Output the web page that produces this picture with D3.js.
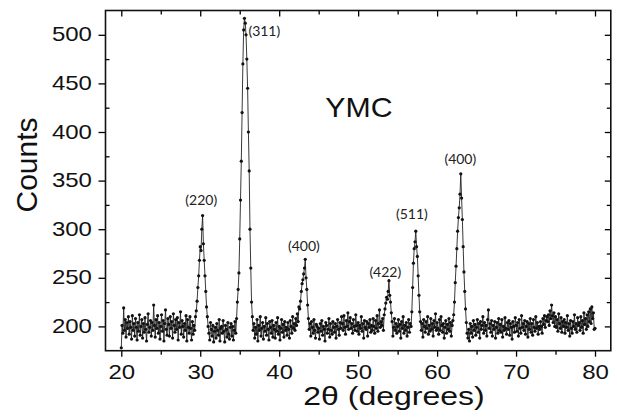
<!DOCTYPE html>
<html><head><meta charset="utf-8">
<script src="https://cdn.jsdelivr.net/npm/d3@7"></script>
<style>html,body{margin:0;padding:0;background:#fff;} svg{display:block}</style>
</head><body>
<svg id="chart" width="617" height="418"></svg>
<script>
// ---- data ----
const startAngle = 20, angleStep = 0.1;
const counts = [
178,201,193,219,196,207,189,204,198,210,
192,205,199,187,211,196,203,190,208,199,
186,204,195,212,191,200,207,188,203,194,
209,197,185,202,213,194,199,206,190,204,
196,222,201,189,207,198,211,193,204,187,
200,212,195,206,185,203,217,197,191,208,
202,190,210,198,205,188,213,201,194,207,
197,209,186,204,199,215,192,206,200,189,
203,196,211,185,207,199,193,210,198,186,
205,192,201,196,210,216,226,240,252,268,
282,278,300,314,285,268,252,236,220,210,
200,193,186,204,197,190,201,184,195,199,
188,203,196,191,207,185,198,200,193,206,
195,184,201,197,189,204,192,187,199,203,
190,200,186,196,205,193,208,225,238,255,
290,330,370,420,470,505,517,512,500,475,
445,400,360,300,260,225,210,196,203,188,
199,192,207,185,201,196,210,190,198,204,
187,200,195,209,191,203,197,186,205,199,
193,206,189,201,197,188,204,195,209,192,
200,186,198,207,194,202,189,205,196,199,
191,204,197,188,206,200,193,210,198,203,
196,208,201,213,205,220,218,226,236,244,
248,254,260,269,250,238,222,208,197,203,
190,205,199,193,207,196,188,202,200,194,
198,187,203,195,206,191,200,197,185,204,
201,193,197,208,189,203,196,192,205,199,
194,203,188,200,207,197,191,204,198,210,
203,196,211,199,192,206,200,214,197,205,
209,198,203,193,207,200,196,212,201,195,
204,192,201,198,210,195,203,188,206,199,
197,205,190,203,199,207,194,201,196,208,
200,193,206,198,211,195,203,217,199,205,
201,208,196,212,218,224,230,228,236,247,
232,225,214,205,190,199,208,196,203,193,
200,207,195,202,188,205,198,210,193,201,
196,204,190,199,207,194,203,200,215,240,
265,280,287,298,282,272,252,232,215,205,
196,203,189,207,200,194,205,198,210,192,
201,195,208,197,203,190,206,199,213,196,
204,198,192,207,196,210,201,194,203,188,
199,206,193,202,197,208,195,204,190,201,
206,212,225,245,262,280,298,312,322,336,
357,332,310,282,256,236,218,204,193,188,
197,185,203,193,200,189,206,196,202,191,
199,207,194,203,188,205,197,201,210,193,
204,196,201,190,207,217,198,203,194,206,
190,201,197,205,188,199,204,193,208,196,
202,194,207,189,200,196,209,198,192,204,
197,206,191,203,199,187,205,200,194,209,
201,195,204,190,207,198,193,211,199,203,
196,206,192,200,205,189,203,197,208,194,
203,191,207,199,195,210,198,204,192,200,
197,205,200,193,208,202,211,199,206,210,
205,212,201,216,208,222,211,204,214,200,
210,199,207,195,213,203,198,209,194,205,
200,207,193,204,199,211,196,203,190,206,
198,193,205,200,212,197,203,194,209,201,
204,196,210,199,206,193,214,202,208,197,
212,200,215,205,218,203,220,208,214,197,
198
];
const xTickValues = [20, 30, 40, 50, 60, 70, 80];
const xMinorTicks = [25, 35, 45, 55, 65, 75];
const yTickValues = [200, 250, 300, 350, 400, 450, 500];
const yMinorTicks = [225, 275, 325, 375, 425, 475];
const peakNames = ["(220)", "(311)", "(400)", "(422)", "(511)", "(400)"];
const peakLabelAngles = [30.13, 36.1, 43.12, 53.44, 56.8, 62.94];
const peakLabelCounts = [324.5, 498.4, 277.2, 250.4, 310.1, 366.7];
const sampleName = "YMC";
const xTitle = "2θ (degrees)";
const yTitle = "Counts";

// ---- drawing ----
const svg = d3.select("#chart");
const x = d3.scaleLinear().domain([18, 82]).range([105.5, 610.8]);
const y = d3.scaleLinear().domain([175, 525]).range([350.7, 10.5]);

const pts = counts.map((c, i) => ({a: +(startAngle + i * angleStep).toFixed(2), c}));

svg.append("clipPath").attr("id", "plotclip").append("rect")
  .attr("x", x(18)).attr("y", y(525)).attr("width", x(82) - x(18)).attr("height", y(175) - y(525));

const plot = svg.append("g").attr("clip-path", "url(#plotclip)");
plot.append("path").datum(pts)
  .attr("fill", "none").attr("stroke", "#222").attr("stroke-width", 0.9)
  .attr("d", d3.line().x(d => x(d.a)).y(d => y(d.c)));
plot.selectAll("circle").data(pts).join("circle")
  .attr("cx", d => x(d.a)).attr("cy", d => y(d.c)).attr("r", 1.6).attr("fill", "#111");

const tickStyle = g => {
  g.select(".domain").remove();
  g.selectAll(".tick line").attr("stroke", "#000").attr("stroke-width", 1.3);
};
const labelFont = "'Liberation Sans', Arial, sans-serif";

// bottom
const gB = svg.append("g").attr("transform", `translate(0,${y(175)})`)
  .call(d3.axisBottom(x).tickValues(xTickValues).tickSizeInner(6).tickSizeOuter(0).tickPadding(8.3).tickFormat(d3.format("d")))
  .call(tickStyle);
gB.selectAll(".tick text").attr("font-family", labelFont).attr("font-size", 20).attr("fill", "#111")
  .attr("transform", "scale(1.2,1)");
svg.append("g").attr("transform", `translate(0,${y(175)})`)
  .call(d3.axisBottom(x).tickValues(xMinorTicks).tickSizeInner(4).tickSizeOuter(0).tickFormat(""))
  .call(tickStyle);
// top
svg.append("g").attr("transform", `translate(0,${y(525)})`)
  .call(d3.axisTop(x).tickValues(xTickValues).tickSizeInner(-6).tickSizeOuter(0).tickFormat(""))
  .call(tickStyle);
svg.append("g").attr("transform", `translate(0,${y(525)})`)
  .call(d3.axisTop(x).tickValues(xMinorTicks).tickSizeInner(-4).tickSizeOuter(0).tickFormat(""))
  .call(tickStyle);
// left
const gL = svg.append("g").attr("transform", `translate(${x(18)},0)`)
  .call(d3.axisLeft(y).tickValues(yTickValues).tickSizeInner(7).tickSizeOuter(0).tickFormat(d3.format("d")))
  .call(tickStyle);
gL.selectAll(".tick text").attr("font-family", labelFont).attr("font-size", 20).attr("fill", "#111")
  .attr("x", -11.3).attr("dy", "0.3em").attr("transform", "scale(1.2,1)");
svg.append("g").attr("transform", `translate(${x(18)},0)`)
  .call(d3.axisLeft(y).tickValues(yMinorTicks).tickSizeInner(-4).tickSizeOuter(0).tickFormat(""))
  .call(tickStyle);
// right
svg.append("g").attr("transform", `translate(${x(82)},0)`)
  .call(d3.axisRight(y).tickValues(yTickValues).tickSizeInner(-6).tickSizeOuter(0).tickFormat(""))
  .call(tickStyle);
svg.append("g").attr("transform", `translate(${x(82)},0)`)
  .call(d3.axisRight(y).tickValues(yMinorTicks).tickSizeInner(-4).tickSizeOuter(0).tickFormat(""))
  .call(tickStyle);

// frame
svg.append("rect").attr("x", x(18)).attr("y", y(525))
  .attr("width", x(82) - x(18)).attr("height", y(175) - y(525))
  .attr("fill", "none").attr("stroke", "#111").attr("stroke-width", 1.6);

// peak labels
svg.append("g").selectAll("text").data(peakNames).join("text")
  .attr("x", (d, i) => x(peakLabelAngles[i])).attr("y", (d, i) => y(peakLabelCounts[i]))
  .attr("text-anchor", (d, i) => i === 1 ? "start" : "middle")
  .attr("font-family", "Lato, 'Open Sans', sans-serif").attr("font-size", 14).attr("fill", "#222")
  .text(d => d);

// sample name
svg.append("text").attr("transform", `translate(${x(45.84)},${y(415.1)}) scale(1.08,1)`)
  .attr("font-family", labelFont).attr("font-size", 28).attr("fill", "#111")
  .text(sampleName);

// axis titles
svg.append("text").attr("transform", `translate(394,405) scale(1.28,1)`)
  .attr("text-anchor", "middle").attr("font-family", labelFont).attr("font-size", 25).attr("fill", "#111")
  .text(xTitle);
svg.append("text").attr("transform", `translate(37,165) rotate(-90)`)
  .attr("text-anchor", "middle").attr("font-family", labelFont).attr("font-size", 30).attr("fill", "#111")
  .text(yTitle);
</script>
</body></html>
